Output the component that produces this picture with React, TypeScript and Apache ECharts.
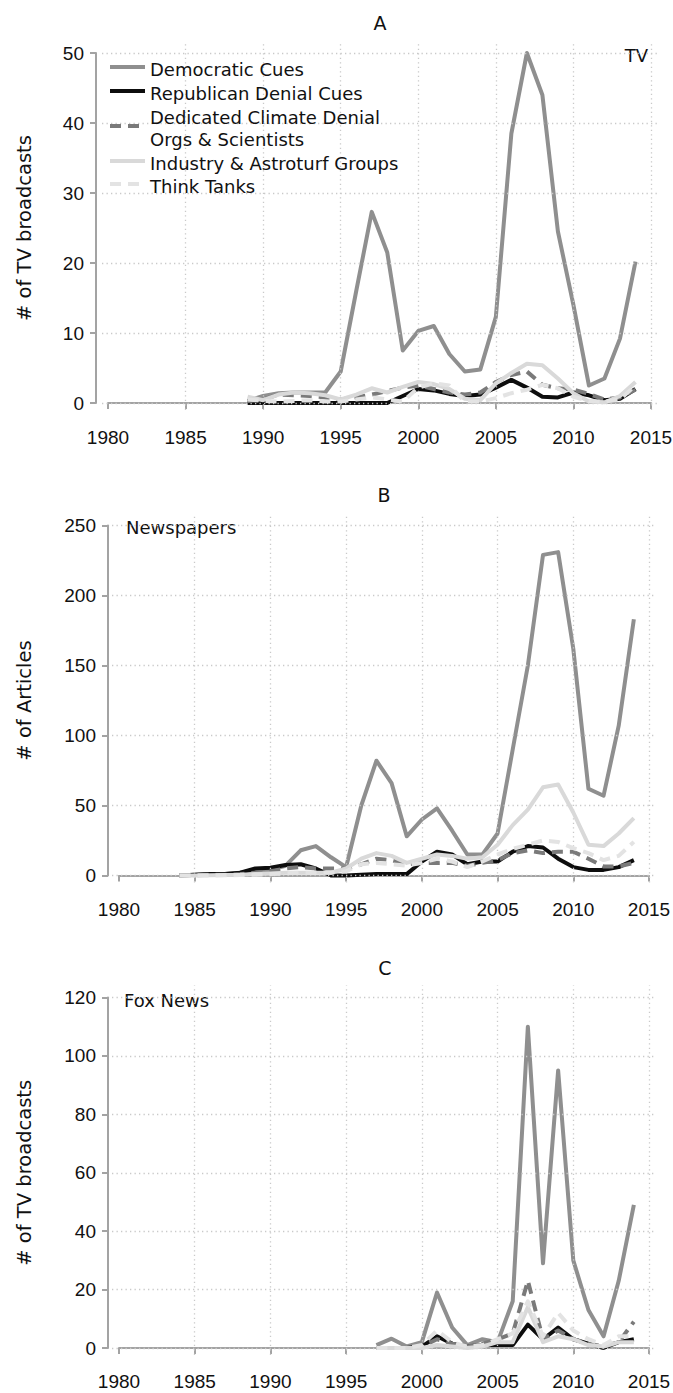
import React, { useEffect, useRef } from "react";
import * as echarts from "echarts";

// ---------------- data ----------------
const seriesNames = [
  "Democratic Cues",
  "Republican Denial Cues",
  "Dedicated Climate Denial Orgs & Scientists",
  "Industry & Astroturf Groups",
  "Think Tanks",
];
const legendLabels = [
  "Democratic Cues",
  "Republican Denial Cues",
  "Dedicated Climate Denial\nOrgs & Scientists",
  "Industry & Astroturf Groups",
  "Think Tanks",
];

const xTicks = [1980, 1985, 1990, 1995, 2000, 2005, 2010, 2015];

// Panel A: TV
const yearsA = [1989, 1990, 1991, 1992, 1993, 1994, 1995, 1996, 1997, 1998, 1999, 2000, 2001, 2002, 2003, 2004, 2005, 2006, 2007, 2008, 2009, 2010, 2011, 2012, 2013, 2014];
const demA = [0.3, 1, 1.4, 1.5, 1.5, 1.5, 4.5, 16, 27.3, 21.5, 7.5, 10.3, 11, 7, 4.5, 4.8, 12.3, 38.5, 50, 44, 24.5, 14, 2.5, 3.5, 9.2, 20.2];
const repA = [0, 0, 0, 0, 0, 0, 0, 0, 0, 0, 1, 2, 1.8, 1.3, 1, 1.2, 2.2, 3.3, 2.2, 0.9, 0.8, 1.5, 1.1, 0.4, 0.6, 2];
const dedA = [0.3, 0.5, 1.2, 1.1, 1, 0.8, 0.5, 0.8, 1.2, 1.7, 2.2, 2.5, 2, 1.5, 1.2, 1.5, 3, 4, 4.5, 2.6, 2.1, 1.9, 1.3, 0.5, 0.8, 1.9];
const indA = [0.9, 0.4, 1.2, 1.5, 1.4, 1.1, 0.5, 1.2, 2.1, 1.5, 2.3, 3, 2.7, 2, 0.6, 0.4, 2.8, 4.3, 5.6, 5.4, 3.5, 1.4, 0.2, 0.1, 1, 3];
const thinkA = [0.5, 0.3, 0.2, 0.3, 0.4, 0.2, 0.2, 0.5, 0.8, 0.5, 0.2, 2.2, 2.8, 2.5, 0.2, 0.2, 0.7, 1.4, 1.9, 2.6, 2.1, 0.9, 0.3, 0.2, 0.5, 2.5];
const yTicksA = [0, 10, 20, 30, 40, 50];

// Panel B: Newspapers
const yearsB = [1984, 1985, 1986, 1987, 1988, 1989, 1990, 1991, 1992, 1993, 1994, 1995, 1996, 1997, 1998, 1999, 2000, 2001, 2002, 2003, 2004, 2005, 2006, 2007, 2008, 2009, 2010, 2011, 2012, 2013, 2014];
const demB = [0, 0.5, 1, 1, 2, 3, 4, 7, 18, 21, 13, 6, 50, 82, 66, 28, 40, 48, 32, 15, 15, 30, 90, 150, 229, 231, 162, 62, 57, 107, 183];
const repB = [0, 0.5, 1, 1, 2, 5, 5.5, 7.5, 8, 5, 0, 0, 0.5, 1, 1, 1, 10, 17, 15, 8, 10, 10, 17, 21, 20, 12, 6, 4, 4, 6, 11];
const dedB = [0, 0.2, 0.5, 0.5, 1, 2, 3, 5, 6, 5, 5, 5, 8, 12, 11, 8, 9, 9, 9, 7, 9, 11, 16, 18, 16, 17, 17, 12, 6.5, 6.5, 9];
const indB = [0, 0, 0.2, 0.3, 0.5, 1, 1.5, 2, 2, 2, 2, 5, 12, 16, 14, 9, 12, 15, 14, 12, 13, 22, 36, 47, 63, 65, 45, 22, 21, 30, 41];
const thinkB = [0, 0, 0, 0.2, 0.3, 0.5, 1, 1.5, 2, 2, 2, 3, 8, 9, 8, 7, 9, 12, 10, 6, 10, 15, 19, 22, 25, 24, 19.5, 16, 11, 14, 24];
const yTicksB = [0, 50, 100, 150, 200, 250];

// Panel C: Fox News
const yearsC = [1997, 1998, 1999, 2000, 2001, 2002, 2003, 2004, 2005, 2006, 2007, 2008, 2009, 2010, 2011, 2012, 2013, 2014];
const demC = [1, 3.2, 0.5, 2, 19, 7, 1, 3, 2, 16, 110, 29, 95, 30, 13, 4, 23, 49];
const repC = [0, 0, 0, 0.5, 4, 1.5, 0.5, 1, 1, 1, 8, 3, 7, 3, 1.5, 0, 2, 3];
const dedC = [0, 0, 0, 0.5, 3, 1.5, 0.5, 1.5, 3, 5, 23, 3, 6, 3, 1.5, 0.5, 2, 9];
const indC = [0, 0, 0, 0, 1, 0.5, 0, 0.5, 2, 2, 14, 2, 4, 3, 1, 0.5, 2, 2];
const thinkC = [0, 0, 0, 1, 6, 2, 0.5, 1, 3, 5, 16, 4, 12, 6, 3, 1, 4, 4];
const yTicksC = [0, 20, 40, 60, 80, 100, 120];

// ---------------- styles / layout ----------------
const FONT_TEXT = "'DejaVu Sans', 'Noto Sans', sans-serif";
const FONT_TICK = "'Liberation Sans Narrow', 'Liberation Sans', Arial, sans-serif";
const AXIS_COLOR = "#a3a3a3";
const GRID_COLOR = "#c9c9c9";

const LINE_STYLES = [
  { color: "#8f8f8f", dash: "solid" as any },
  { color: "#0d0d0d", dash: "solid" as any },
  { color: "#7a7a7a", dash: [11, 7] as any },
  { color: "#d9d9d9", dash: "solid" as any },
  { color: "#e3e3e3", dash: [11, 7] as any },
];
const LINE_WIDTH = 4;

const PANELS = [
  {
    title: "A", titleX: 380, titleY: 23,
    yTitle: "# of TV broadcasts",
    note: "TV", noteX: 648, noteY: 55, noteAlign: "right",
    years: yearsA, values: [demA, repA, dedA, indA, thinkA], yTicks: yTicksA,
    inner: { left: 108, top: 53, width: 543, height: 350 },
    xOffset: 14, yOffset: 12,
    pad: { l: 6, r: 8, t: 12, b: 7 },
  },
  {
    title: "B", titleX: 384, titleY: 495,
    yTitle: "# of Articles",
    note: "Newspapers", noteX: 126, noteY: 527, noteAlign: "left",
    years: yearsB, values: [demB, repB, dedB, indB, thinkB], yTicks: yTicksB,
    inner: { left: 119, top: 525.5, width: 530, height: 350 },
    xOffset: 13, yOffset: 11,
    pad: { l: 7, r: 7, t: 12, b: 7 },
  },
  {
    title: "C", titleX: 385, titleY: 968,
    yTitle: "# of TV broadcasts",
    note: "Fox News", noteX: 124, noteY: 1000, noteAlign: "left",
    years: yearsC, values: [demC, repC, dedC, indC, thinkC], yTicks: yTicksC,
    inner: { left: 119, top: 997.5, width: 530, height: 350.5 },
    xOffset: 13, yOffset: 11,
    pad: { l: 7, r: 7, t: 12, b: 7 },
  },
];

const LEGEND = { lineX1: 110, lineX2: 145, textX: 150, lineYs: [67, 91, 126, 161, 184], textYs: [69, 93, 128, 163, 186] };

function buildOption() {
  const grid: any[] = [];
  const xAxis: any[] = [];
  const yAxis: any[] = [];
  const series: any[] = [];
  const graphic: any[] = [];

  PANELS.forEach((p, i) => {
    const xMin = xTicks[0];
    const xMax = xTicks[xTicks.length - 1];
    const yMin = p.yTicks[0];
    const yMax = p.yTicks[p.yTicks.length - 1];
    const yInterval = p.yTicks[1] - p.yTicks[0];
    const pxX = p.inner.width / (xMax - xMin);
    const pxY = p.inner.height / (yMax - yMin);
    const outerIdx = 2 * i;
    const innerIdx = 2 * i + 1;

    grid.push({
      left: p.inner.left - p.pad.l,
      top: p.inner.top - p.pad.t,
      width: p.inner.width + p.pad.l + p.pad.r,
      height: p.inner.height + p.pad.t + p.pad.b,
      outerBoundsMode: "none",
      containLabel: false,
    });
    grid.push({
      left: p.inner.left,
      top: p.inner.top,
      width: p.inner.width,
      height: p.inner.height,
      outerBoundsMode: "none",
      containLabel: false,
    });

    xAxis.push({
      gridIndex: outerIdx, type: "value", show: false,
      min: xMin - p.pad.l / pxX, max: xMax + p.pad.r / pxX,
      splitLine: { show: false },
    });
    yAxis.push({
      gridIndex: outerIdx, type: "value", show: false,
      min: yMin - p.pad.b / pxY, max: yMax + p.pad.t / pxY,
      splitLine: { show: false },
    });

    xAxis.push({
      gridIndex: innerIdx, type: "value", min: xMin, max: xMax, interval: 5,
      position: "bottom", offset: p.xOffset,
      axisLine: { show: true, lineStyle: { color: AXIS_COLOR, width: 2 } },
      axisTick: { show: true, length: 6, lineStyle: { color: AXIS_COLOR, width: 2 } },
      axisLabel: {
        show: true, color: "#111", fontSize: 19, fontFamily: FONT_TICK, margin: 11,
        showMinLabel: true, showMaxLabel: true,
        formatter: (v: number) => String(v),
      },
      splitLine: { show: false },
    });
    yAxis.push({
      gridIndex: innerIdx, type: "value", min: yMin, max: yMax, interval: yInterval,
      position: "left", offset: p.yOffset,
      axisLine: { show: true, lineStyle: { color: AXIS_COLOR, width: 2 } },
      axisTick: { show: true, length: 6, lineStyle: { color: AXIS_COLOR, width: 2 } },
      axisLabel: {
        show: true, color: "#111", fontSize: 19, fontFamily: FONT_TICK, margin: 12,
        showMinLabel: true, showMaxLabel: true,
        formatter: (v: number) => String(v),
      },
      splitLine: { show: false },
    });

    series.push({
      type: "line",
      xAxisIndex: outerIdx, yAxisIndex: outerIdx,
      data: [[xTicks[1], p.yTicks[0]]],
      showSymbol: false, symbol: "none",
      lineStyle: { opacity: 0 },
      silent: true, z: 1,
      markLine: {
        silent: true, symbol: ["none", "none"], label: { show: false },
        animation: false,
        lineStyle: { color: GRID_COLOR, width: 1.3, type: [1.3, 3.2] },
        data: [
          ...xTicks.slice(1).map((v) => ({ xAxis: v })),
          ...p.yTicks.map((v) => ({ yAxis: v })),
        ],
      },
    });

    p.values.forEach((vals, k) => {
      series.push({
        name: seriesNames[k],
        type: "line",
        xAxisIndex: innerIdx, yAxisIndex: innerIdx,
        data: p.years.map((y, j) => [y, vals[j]]),
        showSymbol: false, symbol: "none",
        clip: false,
        z: 3 + k,
        lineStyle: { color: LINE_STYLES[k].color, width: LINE_WIDTH, type: LINE_STYLES[k].dash, cap: "butt", join: "round" },
      });
    });

    graphic.push({
      type: "text", x: p.titleX, y: p.titleY,
      style: { text: p.title, fill: "#111", fontSize: 19, fontFamily: FONT_TEXT, textAlign: "center", textVerticalAlign: "middle" },
    });
    graphic.push({
      type: "text", x: 24, y: p.inner.top + p.inner.height / 2, rotation: Math.PI / 2,
      style: { text: p.yTitle, fill: "#111", fontSize: 19.5, fontFamily: FONT_TEXT, textAlign: "center", textVerticalAlign: "middle" },
    });
    graphic.push({
      type: "text", x: p.noteX, y: p.noteY,
      style: { text: p.note, fill: "#111", fontSize: 18, fontFamily: FONT_TEXT, textAlign: p.noteAlign, textVerticalAlign: "middle" },
    });
  });

  legendLabels.forEach((lab, k) => {
    graphic.push({
      type: "line",
      shape: { x1: LEGEND.lineX1, y1: LEGEND.lineYs[k], x2: LEGEND.lineX2, y2: LEGEND.lineYs[k] },
      style: { stroke: LINE_STYLES[k].color, lineWidth: LINE_WIDTH, lineDash: Array.isArray(LINE_STYLES[k].dash) ? LINE_STYLES[k].dash : null },
      z: 20,
    });
    graphic.push({
      type: "text", x: LEGEND.textX, y: LEGEND.textYs[k], z: 20,
      style: { text: lab, fill: "#111", fontSize: 18, lineHeight: 22, fontFamily: FONT_TEXT, textAlign: "left", textVerticalAlign: "middle" },
    });
  });

  return {
    animation: false,
    backgroundColor: "#ffffff",
    grid, xAxis, yAxis, series, graphic,
  };
}

export default function App() {
  const ref = useRef<HTMLDivElement>(null);
  useEffect(() => {
    if (!ref.current) return;
    const chart = echarts.init(ref.current, null, { renderer: "svg" });
    chart.setOption(buildOption() as any);
    return () => chart.dispose();
  }, []);
  return (
    <div
      ref={ref}
      style={{ position: "absolute", left: 0, top: 0, width: 673, height: 1393, background: "#fff" }}
    />
  );
}
